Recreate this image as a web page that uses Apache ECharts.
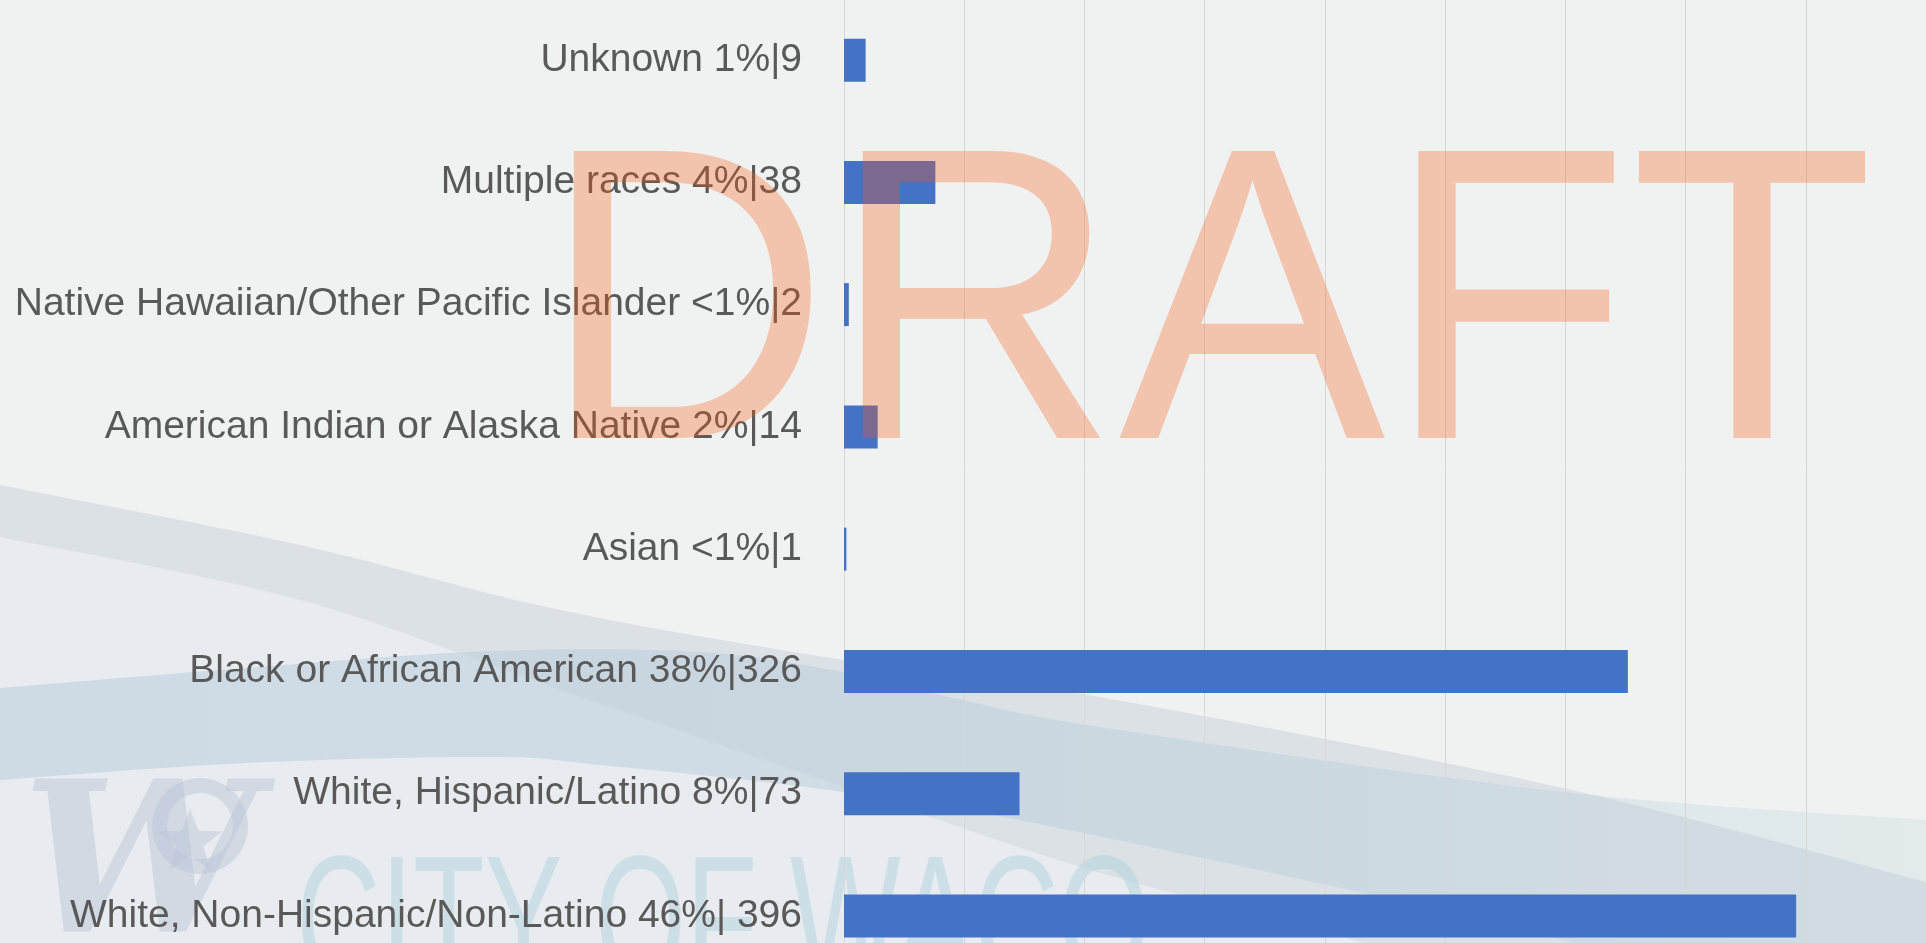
<!DOCTYPE html>
<html>
<head>
<meta charset="utf-8">
<script src="https://cdn.jsdelivr.net/npm/echarts@6.0.0/dist/echarts.min.js"></script>
<style>
  html, body { margin: 0; padding: 0; background: #F0F2F1; }
  #chart { width: 1926px; height: 943px; }
</style>
</head>
<body>
<div id="chart"></div>
<script>
// chart data (top to bottom as shown)
var categories = [
    'Unknown 1%|9',
    'Multiple races 4%|38',
    'Native Hawaiian/Other Pacific Islander <1%|2',
    'American Indian or Alaska Native 2%|14',
    'Asian <1%|1',
    'Black or African American 38%|326',
    'White, Hispanic/Latino 8%|73',
    'White, Non-Hispanic/Non-Latino 46%| 396'
];
var counts = [9, 38, 2, 14, 1, 326, 73, 396];
var axisMax = 450;
var axisStep = 50;

// catmull-rom sampling for the background swooshes
function spline(pts, steps) {
    var out = [];
    for (var i = 0; i < pts.length - 1; i++) {
        var p0 = pts[Math.max(i - 1, 0)], p1 = pts[i], p2 = pts[i + 1], p3 = pts[Math.min(i + 2, pts.length - 1)];
        for (var s = 0; s < steps; s++) {
            var t = s / steps, t2 = t * t, t3 = t2 * t;
            var pt = [0, 1].map(function (k) {
                return 0.5 * ((2 * p1[k]) + (-p0[k] + p2[k]) * t +
                    (2 * p0[k] - 5 * p1[k] + 4 * p2[k] - p3[k]) * t2 +
                    (-p0[k] + 3 * p1[k] - 3 * p2[k] + p3[k]) * t3);
            });
            out.push(pt);
        }
    }
    out.push(pts[pts.length - 1]);
    return out;
}

function star(cx, cy, r1, r2) {
    var pts = [];
    for (var i = 0; i < 10; i++) {
        var a = -Math.PI / 2 + i * Math.PI / 5;
        var r = i % 2 ? r2 : r1;
        pts.push([cx + r * Math.cos(a), cy + r * Math.sin(a)]);
    }
    return pts;
}

// swoosh edges
var topA = spline([[0, 485], [300, 545], [560, 610], [843, 660], [1100, 697], [1563, 788], [1926, 882]], 16);
var botA = spline([[0, 537], [300, 600], [560, 690], [843, 787], [1100, 873], [1363, 943], [1500, 995]], 16);
var topB = spline([[0, 688], [246, 668], [491, 651], [700, 652], [843, 672], [963, 700], [1100, 727], [1563, 792], [1926, 820]], 16);
var botB = spline([[0, 780], [246, 763], [491, 757], [600, 765], [843, 792], [1083, 833], [1574, 943], [1700, 1000]], 16);

var lightPoly = botA.concat([[1500, 1000], [0, 1000]]);
var bandA = topA.concat([[1926, 1000]], botA.slice().reverse());
var bandB = topB.concat([[1926, 1100], [1700, 1100]], botB.slice().reverse());

var bg = -10;
var graphics = [
    { type: 'polygon', z: bg, shape: { points: lightPoly }, style: { fill: '#E8EBEF' } },
    { type: 'polygon', z: bg, shape: { points: bandA }, style: { fill: '#DCE1E6' } },
    {
        type: 'polygon', z: bg, shape: { points: bandB },
        style: {
            fill: new echarts.graphic.LinearGradient(0, 0, 1, 0, [
                { offset: 0, color: 'rgba(175,198,215,0.45)' },
                { offset: 0.5, color: 'rgba(175,200,215,0.40)' },
                { offset: 1, color: 'rgba(175,205,215,0.22)' }
            ])
        }
    },
    // city logo watermark
    {
        type: 'text', z: bg, x: 22, y: 772,
        style: { text: 'W', font: 'italic bold 210px "DejaVu Serif"', fill: 'rgba(185,196,212,0.45)', verticalAlign: 'top' }
    },
    { type: 'ring', z: bg, shape: { cx: 200, cy: 826, r: 48, r0: 33 }, style: { fill: 'rgba(185,196,212,0.45)' } },
    { type: 'polygon', z: bg, shape: { points: star(190, 842, 34, 14) }, style: { fill: 'rgba(185,196,212,0.45)' } },
    {
        type: 'text', z: bg, x: 296, y: 841, scaleX: 0.65,
        style: { text: 'CITY OF WACO', font: '180px "Liberation Sans"', fill: 'rgba(160,205,215,0.38)', verticalAlign: 'top' }
    },
    // draft stamp on top
    {
        type: 'text', z: 100, x: 541, y: 323, scaleY: 1.043,
        style: { text: 'DRAFT', font: '400px "Liberation Sans"', fill: 'rgba(250,90,20,0.30)', verticalAlign: 'middle' }
    }
];

var myChart = echarts.init(document.getElementById('chart'));
myChart.setOption({
    backgroundColor: '#F0F2F1',
    animation: false,
    graphic: graphics,
    grid: {
        left: 844,
        width: 1082,
        top: -1,
        height: 978,
        containLabel: false,
        outerBoundsMode: 'none'
    },
    xAxis: {
        type: 'value',
        min: 0,
        max: axisMax,
        interval: axisStep,
        axisLabel: { show: false },
        axisLine: { show: false },
        axisTick: { show: false },
        splitLine: { lineStyle: { color: '#D6D6D6', width: 1 } }
    },
    yAxis: {
        type: 'category',
        inverse: true,
        data: categories,
        axisLine: { lineStyle: { color: '#D6D6D6', width: 1 } },
        axisTick: { show: false },
        axisLabel: {
            margin: 42,
            fontSize: 39,
            fontFamily: '"Liberation Sans", Arial, sans-serif',
            color: '#595959'
        }
    },
    series: [
        {
            type: 'bar',
            barWidth: 43,
            itemStyle: { color: '#4472C4' },
            data: counts
        }
    ]
});
</script>
</body>
</html>
